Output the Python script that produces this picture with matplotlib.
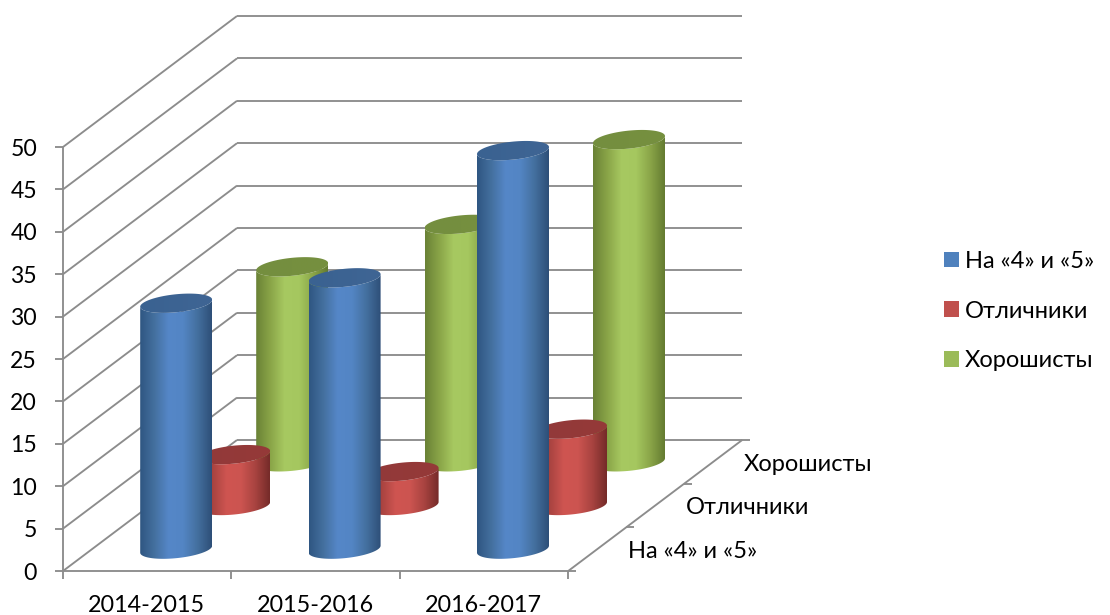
import numpy as np
import matplotlib
matplotlib.use("Agg")
import matplotlib.pyplot as plt
from matplotlib.colors import LinearSegmentedColormap
from matplotlib.patches import Patch, PathPatch
from matplotlib.path import Path

plt.rcParams['font.family'] = ['Lato', 'Noto Sans', 'DejaVu Sans']

years = ["2014-2015", "2015-2016", "2016-2017"]
series = ["На «4» и «5»", "Отличники", "Хорошисты"]
blue_vals = [29, 32, 47]
red_vals = [6, 4, 9]
green_vals = [23, 28, 38]
y_ticks = list(range(0, 55, 5))

# oblique projection, all in pixels
x0, y0 = 63, 571
cat_w = 168.4
px_per_unit = 8.48
dx, dy = 174, -131
line_col = "#8c8c8c"
line_w = 1.35

def proj(cat, val, depth):
    # cat in category widths, depth 0..1 front to back
    return x0 + cat*cat_w + depth*dx, y0 - val*px_per_unit + depth*dy

fig = plt.figure(figsize=(11.10, 6.15), dpi=100)
ax = fig.add_axes([0, 0, 1, 1])

def seg(p, q, lw=line_w):
    ax.plot([p[0], q[0]], [p[1], q[1]], color=line_col, lw=lw, solid_capstyle="butt", zorder=1)

# walls
n_cat = len(years)
for v in y_ticks:
    seg(proj(0, v, 0), proj(0, v, 1))
    seg(proj(0, v, 1), proj(n_cat, v, 1))
    xt, yt = proj(0, v, 0)
    seg((xt-8, yt), (xt, yt))
    ax.text(xt-26, yt, str(v), ha="right", va="center_baseline", fontsize=16.6, color="black")
seg(proj(0, 0, 0), proj(0, y_ticks[-1], 0))

# floor
seg(proj(0, 0, 0), proj(n_cat, 0, 0))
seg(proj(n_cat, 0, 0), proj(n_cat, 0, 1))
for i in range(n_cat+1):
    xt, yt = proj(i, 0, 0)
    seg((xt, yt), (xt, yt+8))
for i in range(len(series)+1):
    xt, yt = proj(n_cat, 0, i/len(series))
    seg((xt, yt), (xt+8, yt))

for i, lab in enumerate(years):
    xt, yt = proj(i+0.5, 0, 0)
    ax.text(xt-0.5, yt+33, lab, ha="center", va="center_baseline", fontsize=16.8)

for i, lab in enumerate(series):
    xt, yt = proj(n_cat, 0, (i+0.5)/len(series))
    ax.text(xt+31, yt+0.5, lab, ha="left", va="center_baseline", fontsize=17)

# cylinders
half_w = 36
ell_b = 9
tilt = 3.5
t = np.linspace(0, 2*np.pi, 121)

def gradient(xa, xb, ya, yb, cols, path, z):
    cmap = LinearSegmentedColormap.from_list("c", cols)
    grad = np.linspace(0, 1, 200).reshape(1, -1)
    im = ax.imshow(grad, cmap=cmap, extent=(xa, xb, yb, ya), aspect="auto", zorder=z, interpolation="bilinear")
    im.set_clip_path(PathPatch(path, transform=ax.transData))

def cylinder(cx, base_y, top_y, cols, top_cols, z):
    ex = half_w*np.cos(t)
    ey = ell_b*np.sin(t) - tilt*np.cos(t)
    lower = t <= np.pi      # pixel y points down, so sin>0 is the lower half
    body = list(zip(cx+ex[lower], base_y+ey[lower])) + list(zip(cx+ex[lower][::-1], top_y+ey[lower][::-1]))
    gradient(cx-half_w, cx+half_w, top_y-14, base_y+14, cols, Path(body + [body[0]]), z)
    cap = list(zip(cx+ex, top_y+ey))
    gradient(cx-half_w, cx+half_w, top_y-14, top_y+14, top_cols, Path(cap), z+0.1)

styles = [
    (blue_vals, ["#2f5682", "#44709f", "#5587c8", "#5385c4", "#44709f", "#2e4f78"], ["#3a6291", "#3f6594"]),
    (red_vals, ["#7f2f2d", "#a84340", "#cf5551", "#cc5450", "#a84340", "#752b29"], ["#92393a", "#953a38"]),
    (green_vals, ["#6a8236", "#8aa548", "#a7c961", "#a5c75f", "#8aa548", "#647b31"], ["#748e3f", "#76903f"]),
]
for s in range(len(series)-1, -1, -1):
    vals, cols, top_cols = styles[s]
    depth = (s+0.5)/len(series)
    for i, v in enumerate(vals):
        cx, base_y = proj(i+0.5, 0, depth)
        _, top_y = proj(i+0.5, v, depth)
        cylinder(cx, base_y, top_y, cols, top_cols, 3+(len(series)-s)*2+i*0.3)

handles = [Patch(facecolor=c, edgecolor="none") for c in ["#4f81bd", "#c0504d", "#9bbb59"]]
leg = ax.legend(handles, series, loc="center left", bbox_to_anchor=(944/1110, 1-311/615), frameon=False,
                fontsize=17, handlelength=0.64, handleheight=0.64, handletextpad=0.26,
                labelspacing=1.22, borderpad=0, borderaxespad=0)

ax.set_xlim(0, 1110)
ax.set_ylim(615, 0)
ax.axis("off")
fig.savefig("out.png", dpi=100)
